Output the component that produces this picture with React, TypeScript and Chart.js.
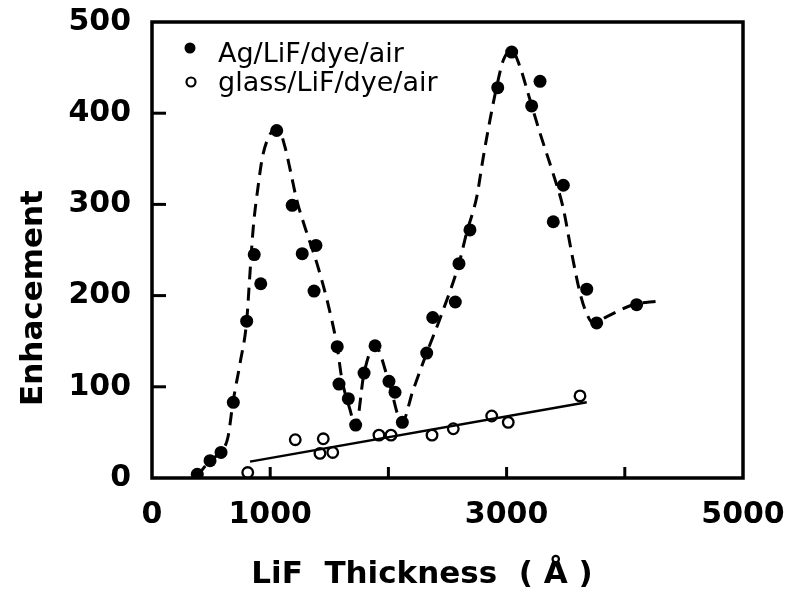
import React, { useEffect, useRef } from "react";
import { Chart, registerables } from "chart.js";

Chart.register(...registerables);

// Ag/LiF/dye/air (filled circles)
const agX = [383, 491, 584, 688, 801, 865, 920, 1055, 1186, 1271, 1371, 1387, 1567, 1582, 1661, 1723, 1794, 1887, 2005, 2056, 2118, 2324, 2375, 2566, 2597, 2690, 2925, 3043, 3212, 3283, 3395, 3480, 3678, 3762, 4100];
const agY = [4, 19, 28, 83, 172, 245, 213, 381, 299, 246, 205, 255, 144, 103, 87, 58, 115, 145, 106, 94, 61, 137, 176, 193, 235, 272, 428, 467, 408, 435, 281, 321, 207, 170, 190];

// glass/LiF/dye/air (open circles)
const glassX = [810, 1212, 1421, 1449, 1529, 1920, 2022, 2369, 2549, 2874, 3014, 3621];
const glassY = [6, 42, 27, 43, 28, 47, 47, 47, 54, 68, 61, 90];

// straight fit through the glass data
const fitX = [829, 3678];
const fitY = [18, 83];

// hand-drawn dashed guide through the Ag data
const curveX = [381, 491, 584, 643, 685, 745, 801, 829, 857, 899, 933, 984, 1041, 1070, 1125, 1182, 1224, 1294, 1396, 1481, 1565, 1607, 1675, 1723, 1794, 1887, 2005, 2115, 2208, 2324, 2437, 2597, 2662, 2747, 2803, 2860, 2916, 2972, 3043, 3113, 3181, 3283, 3393, 3477, 3553, 3621, 3672, 3731, 3849, 4069, 4281];
const curveY = [2, 19, 29, 45, 83, 126, 172, 225, 275, 321, 351, 373, 382, 382, 363, 330, 305, 275, 235, 195, 145, 108, 75, 56, 115, 145, 105, 61, 96, 137, 175, 235, 269, 308, 352, 393, 429, 458, 469, 451, 422, 378, 334, 297, 245, 203, 182, 170, 177, 190, 194];

const xTickValues = [0, 1000, 2000, 3000, 4000, 5000];
const xTickLabels = ["0", "1000", "", "3000", "", "5000"];
const yTickValues = [0, 100, 200, 300, 400, 500];
const yTickLabels = ["0", "100", "200", "300", "400", "500"];
const seriesLabels = ["Ag/LiF/dye/air", "glass/LiF/dye/air"];
const xTitle = "LiF  Thickness  ( Å )";
const yTitle = "Enhacement";

const FONT = '"DejaVu Sans", sans-serif';

const toPoints = (xs: number[], ys: number[]) => xs.map((x, i) => ({ x, y: ys[i] }));

const framePlugin = {
  id: "frameTitlesLegend",
  afterDraw(chart: any) {
    const { ctx, chartArea: a, scales } = chart;
    ctx.save();
    ctx.strokeStyle = "#000";
    ctx.lineWidth = 3.5;
    ctx.strokeRect(a.left, a.top, a.right - a.left, a.bottom - a.top);

    // inward tick marks
    ctx.lineWidth = 3;
    xTickValues.forEach((v) => {
      if (v === xTickValues[0] || v === xTickValues[xTickValues.length - 1]) return;
      const px = scales.x.getPixelForValue(v);
      ctx.beginPath();
      ctx.moveTo(px, a.bottom);
      ctx.lineTo(px, a.bottom - 11);
      ctx.stroke();
    });
    yTickValues.forEach((v) => {
      if (v === yTickValues[0] || v === yTickValues[yTickValues.length - 1]) return;
      const py = scales.y.getPixelForValue(v);
      ctx.beginPath();
      ctx.moveTo(a.left, py);
      ctx.lineTo(a.left + 14, py);
      ctx.stroke();
    });

    // axis titles
    ctx.fillStyle = "#000";
    ctx.font = `bold 31px ${FONT}`;
    ctx.textAlign = "center";
    ctx.textBaseline = "alphabetic";
    ctx.fillText(xTitle, 422, 583);
    ctx.save();
    ctx.translate(42, 298);
    ctx.rotate(-Math.PI / 2);
    ctx.fillText(yTitle, 0, 0);
    ctx.restore();

    // legend
    ctx.font = `27px ${FONT}`;
    ctx.textAlign = "left";
    ctx.beginPath();
    ctx.arc(a.left + 38, 48, 5.5, 0, Math.PI * 2);
    ctx.fill();
    ctx.fillText(seriesLabels[0], a.left + 66, 62);
    ctx.beginPath();
    ctx.lineWidth = 2.2;
    ctx.arc(a.left + 39, 82, 4.5, 0, Math.PI * 2);
    ctx.stroke();
    ctx.fillText(seriesLabels[1], a.left + 66, 91);
    ctx.restore();
  },
};

export default function App() {
  const ref = useRef<HTMLCanvasElement>(null);
  useEffect(() => {
    if (!ref.current) return;
    const tickFont = { family: FONT, size: 30, weight: "bold" as const };
    const chart = new Chart(ref.current, {
      type: "scatter",
      data: {
        datasets: [
          {
            label: "guide",
            data: toPoints(curveX, curveY),
            showLine: true,
            borderColor: "#000",
            borderWidth: 3,
            borderDash: [13, 8],
            pointRadius: 0,
            cubicInterpolationMode: "monotone",
            fill: false,
          },
          {
            label: "fit",
            data: toPoints(fitX, fitY),
            showLine: true,
            borderColor: "#000",
            borderWidth: 2.4,
            pointRadius: 0,
            fill: false,
          },
          {
            label: seriesLabels[1],
            data: toPoints(glassX, glassY),
            pointRadius: 5.3,
            pointBorderWidth: 2.3,
            pointBackgroundColor: "#fff",
            pointBorderColor: "#000",
            showLine: false,
          },
          {
            label: seriesLabels[0],
            data: toPoints(agX, agY),
            pointRadius: 6.5,
            pointBorderWidth: 0,
            pointBackgroundColor: "#000",
            pointBorderColor: "#000",
            showLine: false,
          },
        ],
      },
      options: {
        animation: false,
        responsive: false,
        devicePixelRatio: 1,
        layout: { padding: { left: 0, right: 45, top: 22, bottom: 0 } },
        plugins: { legend: { display: false }, tooltip: { enabled: false } },
        scales: {
          x: {
            type: "linear",
            min: 0,
            max: 5000,
            afterBuildTicks: (s: any) => {
              s.ticks = xTickValues.map((v) => ({ value: v }));
            },
            afterFit: (s: any) => {
              s.height = 117;
              s.paddingLeft = 0;
              s.paddingRight = 0;
            },
            ticks: {
              autoSkip: false,
              maxRotation: 0,
              padding: 11,
              color: "#000",
              font: tickFont,
              callback: (v: any) => {
                const i = xTickValues.indexOf(Number(v));
                return i >= 0 ? xTickLabels[i] : "";
              },
            },
            grid: { display: false },
            border: { display: false },
          },
          y: {
            type: "linear",
            min: 0,
            max: 500,
            afterBuildTicks: (s: any) => {
              s.ticks = yTickValues.map((v) => ({ value: v }));
            },
            afterFit: (s: any) => {
              s.width = 152;
              s.paddingTop = 0;
              s.paddingBottom = 0;
            },
            ticks: {
              autoSkip: false,
              padding: 13,
              color: "#000",
              font: tickFont,
              callback: (v: any) => {
                const i = yTickValues.indexOf(Number(v));
                return i >= 0 ? yTickLabels[i] : "";
              },
            },
            grid: { display: false },
            border: { display: false },
          },
        },
      },
      plugins: [framePlugin],
    });
    return () => chart.destroy();
  }, []);

  return (
    <div style={{ position: "fixed", left: 0, top: 0, width: 788, height: 595, background: "#fff" }}>
      <canvas ref={ref} width={788} height={595} style={{ display: "block" }} />
    </div>
  );
}
